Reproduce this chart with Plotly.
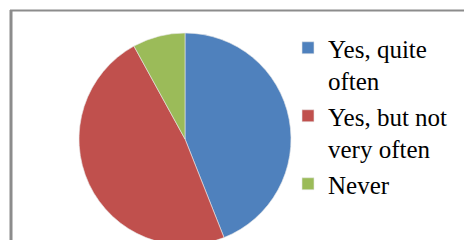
import plotly.graph_objects as go

labels = ["Yes, quite<br>often", "Yes, but not<br>very often", "Never"]
values = [44, 48, 8]
colors = ["#4F81BD", "#C0504D", "#9BBB59"]

W, H = 464, 250

fig = go.Figure(go.Pie(
    labels=labels,
    values=values,
    sort=False,
    direction="clockwise",
    rotation=0,
    textinfo="none",
    marker=dict(colors=colors, line=dict(color="#e8e8e8", width=0.6)),
    domain=dict(x=[79 / W, 291 / W], y=[5 / H, 217 / H]),
))

fig.update_layout(
    width=W, height=H,
    margin=dict(l=0, r=0, t=0, b=0),
    paper_bgcolor="white",
    plot_bgcolor="white",
    showlegend=True,
    legend=dict(
        x=288 / W, xanchor="left",
        y=1 - 25 / H, yanchor="top",
        font=dict(family="Liberation Serif", size=25, color="black"),
        valign="top",
        bgcolor="rgba(0,0,0,0)",
        borderwidth=0,
        tracegroupgap=0,
    ),
    shapes=[
        dict(type="line", xref="paper", yref="paper",
             x0=11 / W, x1=11 / W, y0=-0.2, y1=1 - 10 / H,
             line=dict(color="#8c8c8c", width=3)),
        dict(type="line", xref="paper", yref="paper",
             x0=10 / W, x1=1.2, y0=1 - 10.5 / H, y1=1 - 10.5 / H,
             line=dict(color="#8c8c8c", width=2)),
    ],
)

fig.write_html(
    "out.html",
    config={"displayModeBar": False},
    post_script="document.body.style.margin='0';document.body.style.overflow='hidden';",
)
